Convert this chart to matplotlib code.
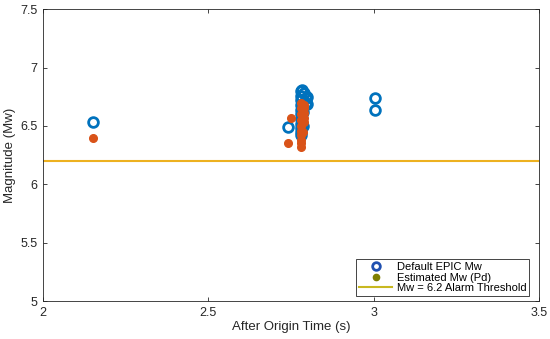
import matplotlib.pyplot as plt
from matplotlib.lines import Line2D

plt.rcParams['font.family'] = ['Liberation Sans', 'DejaVu Sans']

# Default EPIC Mw (open circles)
epic_t = [2.15, 2.74, 2.78, 2.78, 2.78, 2.78, 2.78, 2.78, 2.78, 2.78, 2.78,
          2.78, 2.78, 2.782, 2.785, 2.785, 2.79, 2.795, 2.795, 2.80, 2.80,
          3.005, 3.005]
epic_mw = [6.53, 6.49, 6.42, 6.45, 6.48, 6.52, 6.56, 6.60, 6.64, 6.68, 6.72,
           6.76, 6.80, 6.81, 6.62, 6.50, 6.78, 6.70, 6.74, 6.69, 6.75,
           6.74, 6.64]

# Estimated Mw (Pd) (filled dots)
pd_t = [2.15, 2.74, 2.75, 2.78, 2.78, 2.78, 2.78, 2.78, 2.78, 2.78, 2.78,
        2.78, 2.78, 2.785, 2.785, 2.785, 2.79, 2.79, 2.79, 2.79, 2.79]
pd_mw = [6.40, 6.35, 6.57, 6.32, 6.35, 6.38, 6.42, 6.46, 6.50, 6.55, 6.60,
         6.65, 6.70, 6.68, 6.56, 6.45, 6.53, 6.57, 6.61, 6.65, 6.68]

threshold = 6.2
xticks = [2, 2.5, 3, 3.5]
yticks = [5, 5.5, 6, 6.5, 7, 7.5]

fig = plt.figure(figsize=(5.5, 3.39), dpi=100)
ax = fig.add_axes([0.078, 0.112, 0.902, 0.861])

ax.axhline(threshold, color='#EDB120', lw=1.5, zorder=1)
ax.plot(epic_t, epic_mw, 'o', mfc='none', mec='#0072BD', mew=2, ms=7, zorder=2)
ax.plot(pd_t, pd_mw, 'o', color='#D95319', ms=5.5, zorder=3)

ax.set_xlim(2, 3.5)
ax.set_ylim(5, 7.5)
ax.set_xticks(xticks)
ax.set_xticklabels(['2', '2.5', '3', '3.5'])
ax.set_yticks(yticks)
ax.set_yticklabels(['5', '5.5', '6', '6.5', '7', '7.5'])
ax.tick_params(direction='in', length=3, width=0.6, labelsize=9,
               colors='#262626', top=True, right=True, pad=4)
for s in ax.spines.values():
    s.set_color('#262626')
    s.set_linewidth(0.6)

ax.set_xlabel('After Origin Time (s)', fontsize=9.5, color='#262626', labelpad=2)
ax.set_ylabel('Magnitude (Mw)', fontsize=9.5, color='#262626', labelpad=3)

handles = [
    Line2D([], [], ls='none', marker='o', mfc='none', mec='#2050B0', mew=2, ms=5.5),
    Line2D([], [], ls='none', marker='o', color='#7F7F00', ms=4.5),
    Line2D([], [], color='#C8B820', lw=1.5),
]
labels = ['Default EPIC Mw', 'Estimated Mw (Pd)', 'Mw = 6.2 Alarm Threshold']
leg = ax.legend(handles, labels, loc='lower right', fontsize=8, frameon=True,
                fancybox=False, edgecolor='#262626', framealpha=1,
                borderpad=0.25, labelspacing=0.05, handlelength=3.0,
                handletextpad=0.4, borderaxespad=0.45,
                bbox_to_anchor=(0.99, 0.0))
leg.get_frame().set_linewidth(0.6)

fig.savefig('out.png', dpi=100)
